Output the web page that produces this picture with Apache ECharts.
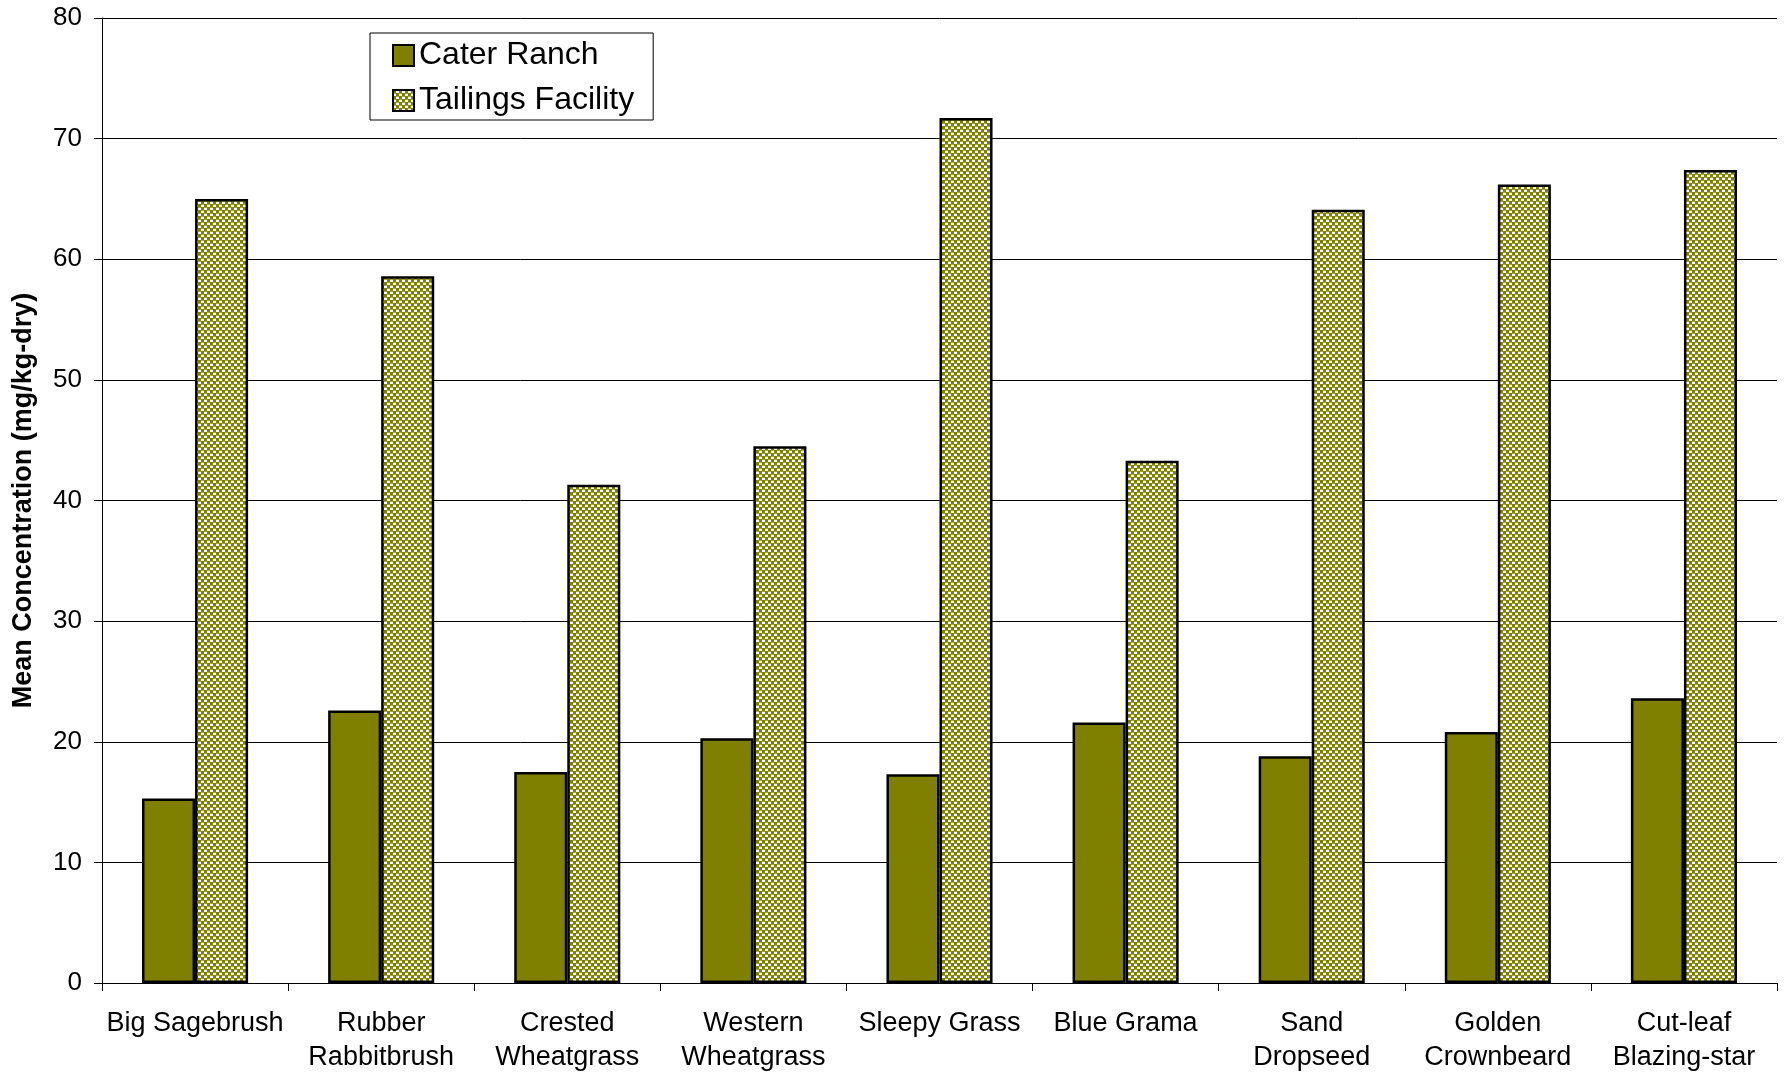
<!DOCTYPE html>
<html>
<head>
<meta charset="utf-8">
<script src="https://cdn.jsdelivr.net/npm/echarts@6/dist/echarts.min.js"></script>
<style>
  html, body { margin: 0; padding: 0; background: #ffffff; }
  #chart { width: 1785px; height: 1075px; }
</style>
</head>
<body>
<div id="chart"></div>
<script>
// Plant species sampled
const categories = [
  'Big Sagebrush', 'Rubber\nRabbitbrush', 'Crested\nWheatgrass', 'Western\nWheatgrass',
  'Sleepy Grass', 'Blue Grama', 'Sand\nDropseed', 'Golden\nCrownbeard', 'Cut-leaf\nBlazing-star'
];
// Mean concentration (mg/kg-dry) by location
const caterRanch = [15.3, 22.6, 17.5, 20.3, 17.3, 21.6, 18.8, 20.8, 23.6];
const tailingsFacility = [65.0, 58.6, 41.3, 44.5, 71.7, 43.3, 64.1, 66.2, 67.4];
const yTicks = { min: 0, max: 80, interval: 10 };

const OLIVE = '#808000';
const FONT = '"Liberation Sans", Arial, sans-serif';

// Checkerboard fill for the tailings bars
function checkerPattern() {
  const c = document.createElement('canvas');
  c.width = 6; c.height = 6;
  const ctx = c.getContext('2d');
  ctx.fillStyle = '#ffffff';
  ctx.fillRect(0, 0, 6, 6);
  ctx.fillStyle = OLIVE;
  ctx.fillRect(0, 0, 3, 3);
  ctx.fillRect(3, 3, 3, 3);
  ctx.fillStyle = '#a6a640';
  ctx.fillRect(3, 0, 3, 1);
  ctx.fillRect(0, 3, 3, 1);
  return { image: c, repeat: 'repeat' };
}

const chart = echarts.init(document.getElementById('chart'), null, { renderer: 'canvas' });

chart.setOption({
  animation: false,
  backgroundColor: '#ffffff',
  textStyle: { fontFamily: FONT, color: '#000' },
  grid: { left: 102, right: 8, top: 18, bottom: 92 },
  legend: {
    orient: 'vertical',
    left: 370,
    top: 33,
    padding: [4, 19, 1, 22],
    itemWidth: 21,
    itemHeight: 21,
    itemGap: 8,
    itemTextGap: 9,
    itemStyle: { borderColor: '#000', borderWidth: 2 },
    borderColor: '#000',
    borderWidth: 1,
    backgroundColor: '#fff',
    icon: 'rect',
    textStyle: { fontSize: 32, lineHeight: 37, fontFamily: FONT, color: '#000' },
    data: ['Cater Ranch', 'Tailings Facility']
  },
  xAxis: {
    type: 'category',
    data: categories,
    axisLine: { lineStyle: { color: '#000', width: 1 } },
    axisTick: { show: true, length: 8, lineStyle: { color: '#000' } },
    axisLabel: {
      fontSize: 27, lineHeight: 34, color: '#000', fontFamily: FONT,
      margin: 24, interval: 0
    }
  },
  yAxis: {
    type: 'value',
    min: yTicks.min, max: yTicks.max, interval: yTicks.interval,
    name: 'Mean Concentration (mg/kg-dry)',
    nameLocation: 'middle',
    nameGap: 65,
    nameTextStyle: { fontSize: 27, fontWeight: 'bold', color: '#000', fontFamily: FONT },
    axisLine: { show: true, lineStyle: { color: '#000', width: 1 } },
    axisTick: { show: true, length: 8, lineStyle: { color: '#000' } },
    axisLabel: { fontSize: 26, color: '#000', fontFamily: FONT, margin: 20 },
    splitLine: { show: true, lineStyle: { color: '#000', width: 1 } }
  },
  series: [
    {
      name: 'Cater Ranch',
      type: 'bar',
      data: caterRanch,
      barGap: '0%',
      barCategoryGap: '43%',
      itemStyle: { color: OLIVE, borderColor: '#000', borderWidth: 2.5 }
    },
    {
      name: 'Tailings Facility',
      type: 'bar',
      data: tailingsFacility,
      barGap: '0%',
      barCategoryGap: '43%',
      itemStyle: { color: checkerPattern(), borderColor: '#000', borderWidth: 2.5 }
    }
  ]
});
</script>
</body>
</html>
